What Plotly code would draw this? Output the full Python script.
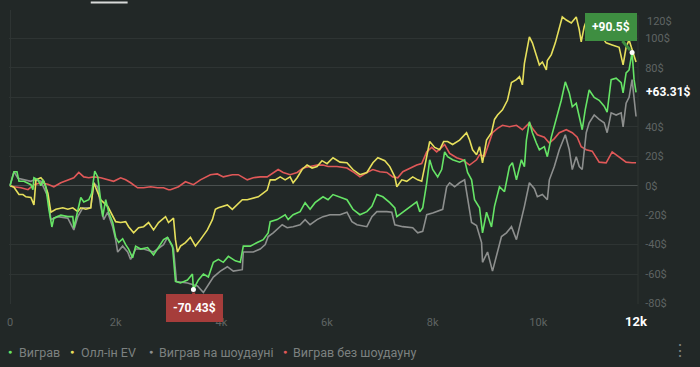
import plotly.graph_objects as go

# ---------------- data ----------------
won_hands = [0, 75, 132, 170, 264, 396, 434, 453, 528, 585, 623, 679, 736, 793, 830, 962, 1094, 1189, 1208, 1283,
             1340, 1396, 1491, 1547, 1604, 1661, 1717, 1755, 1812, 1868, 1944, 2000, 2057, 2132, 2189, 2245, 2321,
             2378, 2472, 2604, 2717, 2812, 2906, 2981, 3076, 3132, 3227, 3359, 3453, 3472, 3566, 3661, 3755, 3849,
             3944, 4038, 4133, 4265, 4359, 4416, 4548, 4680, 4793, 4887, 4925, 5057, 5208, 5265, 5359, 5491, 5586,
             5680, 5774, 5925, 6020, 6114, 6246, 6378, 6491, 6623, 6755, 6850, 6944, 7057, 7189, 7284, 7322, 7435,
             7567, 7699, 7756, 7812, 7888, 7944, 8001, 8095, 8171, 8227, 8284, 8378, 8510, 8605, 8661, 8737, 8793,
             8888, 8944, 9020, 9114, 9171, 9265, 9360, 9454, 9510, 9586, 9680, 9737, 9775, 9831, 9888, 9963, 10020,
             10114, 10171, 10246, 10341, 10435, 10511, 10586, 10643, 10718, 10775, 10831, 10888, 10963, 11058, 11152,
             11247, 11303, 11379, 11473, 11568, 11605, 11662, 11718, 11775, 11813, 11850]
won_vals = [0, 9.5, 9.5, 3, 3, 0.7, -2.7, 5.4, 4, 0, 4, -1, -16, -28, -22, -20, -21, -21, -28.5, -18,
            -8, -11, -9.5, -5, 10, 6, -11.5, -21, -9.5, -18, -25, -35, -38.6, -36, -40, -43, -49,
            -41, -43, -42, -47, -42, -36.6, -35, -41, -65, -66, -64, -60, -70.43, -64, -60, -62, -52,
            -50, -52, -48, -51, -52, -41, -41, -38.6, -36.6, -32, -24.4, -23, -19.7, -23, -19.7, -17.6, -11.5,
            -16, -11.5, -7.5, -9.5, -6, -8, -9.5, -16, -19.7, -17.6, -14, -6, -7.5, -11.5, -15, -21, -18,
            -15, -11, -17.6, -15, 2, 17.6, 11, 6, 11, 23, 19.7, 17.6, 16, 17.6, 9, 4, -9.5,
            -15, -32, -18, -28, -14, -0.7, -4, 13, 15.6, 4, 17.6, 13, 31, 43.4, 36, 29, 24.4,
            26.5, 19.7, 33, 45, 58, 70.5, 63, 53.6, 56, 47, 38, 51.5, 65, 60, 58,
            54, 50, 72, 73, 70, 63, 76.6, 78.6, 90.5, 72, 63.31]

allin_hands = [0, 75, 170, 245, 302, 396, 453, 491, 585, 642, 717, 774, 868, 1000, 1094, 1189, 1283, 1340, 1434,
               1528, 1585, 1661, 1717, 1849, 1944, 2000, 2095, 2189, 2245, 2340, 2434, 2529, 2623, 2717, 2812,
               2906, 2944, 3000, 3076, 3095, 3132, 3170, 3227, 3321, 3415, 3510, 3604, 3736, 3831, 3887, 3944,
               4038, 4114, 4208, 4302, 4397, 4491, 4604, 4699, 4793, 4868, 4925, 5019, 5114, 5208, 5302, 5359,
               5435, 5529, 5623, 5718, 5812, 5906, 6001, 6114, 6246, 6378, 6491, 6623, 6755, 6869, 6963, 7095,
               7189, 7284, 7322, 7416, 7510, 7623, 7718, 7793, 7850, 7944, 8039, 8133, 8208, 8284, 8378, 8510,
               8642, 8699, 8756, 8831, 8888, 8944, 9020, 9114, 9171, 9228, 9322, 9416, 9492, 9586, 9643, 9699,
               9737, 9794, 9831, 9888, 9963, 10020, 10077, 10152, 10171, 10246, 10322, 10397, 10454, 10529,
               10624, 10718, 10775, 10812, 10869, 10963, 11058, 11152, 11284, 11398, 11530, 11605, 11662, 11718,
               11775, 11850]
allin_vals = [0, -1, -6, -6, -7.5, -8, -13, 4, 5.4, 3, -5, -18, -16, -15, -16, -15, -17.6, -15, -16,
              -15, 2, -4, -9.5, -14, -21, -24.4, -25, -24.4, -27.8, -32, -28.5, -27.8, -25, -30, -25,
              -21.7, -21, -25, -23, -22, -36.6, -45, -41, -38.6, -35, -41, -36.6, -30, -23, -16, -15,
              -14, -13, -16, -13, -9.5, -9.5, -8.5, -7.5, -5, -3, 4, 4, 6, 4, 6, 2,
              5.4, 11, 14, 12, 13, 17, 15, 19, 16, 15.6, 11, 7.5, 9, 15.6, 19, 17,
              13, 6, -0.7, 4, 3, 6, 4, 3, 13, 30, 26, 24.4, 30, 30, 28, 31,
              36, 31, 24.4, 21, 26.5, 15.6, 31, 36, 45, 48, 51.5, 58, 70, 72, 74, 68.5,
              83, 94, 101, 97, 87.5, 82, 84, 78.6, 85, 89, 97, 106, 114.6, 112.5,
              110.5, 114.6, 106, 97.6, 108, 117, 112.5, 103.7, 97, 95.6, 94, 82, 94, 99,
              92, 84]

sd_hands = [0, 75, 151, 264, 396, 453, 585, 717, 774, 906, 1094, 1208, 1283, 1378, 1528, 1585, 1661, 1717, 1774,
            1849, 1944, 2000, 2038, 2132, 2227, 2283, 2378, 2529, 2717, 2906, 2981, 3095, 3151, 3359, 3548, 3661,
            3736, 3849, 3982, 4114, 4227, 4397, 4416, 4604, 4736, 4831, 4887, 4982, 5152, 5246, 5359, 5491, 5586,
            5680, 5812, 5925, 6057, 6246, 6378, 6472, 6567, 6755, 6850, 6944, 7133, 7227, 7284, 7435, 7623, 7718,
            7812, 7888, 8001, 8190, 8265, 8322, 8416, 8510, 8605, 8642, 8737, 8831, 8926, 8944, 9039, 9133, 9209,
            9303, 9397, 9492, 9586, 9680, 9737, 9831, 9926, 9982, 10077, 10171, 10209, 10303, 10397, 10511, 10586,
            10643, 10718, 10775, 10831, 10907, 10963, 11058, 11152, 11247, 11303, 11379, 11473, 11568, 11605,
            11662, 11718, 11775, 11813, 11850]
sd_vals = [0, 9.5, 5, 4, 3, 4, 3, -7.5, -23, -21, -22, -30, -21, -15, -15, 2, -1, -14, -23,
           -18, -28, -36.6, -45, -41, -45, -50, -43, -43, -45, -40, -35, -43, -65, -66, -68, -72.5,
           -68, -62, -58, -55, -58, -57, -45, -45, -43, -40, -34.5, -32, -26.5, -28.5, -27.8, -26.5, -23,
           -26.5, -23, -21, -19.7, -19.7, -18, -24.4, -26.5, -27.8, -21, -17.6, -17.6, -18, -26.5, -27.8, -28.5, -32,
           -31, -19.7, -18.5, -16, -0.7, 2, -0.7, 2, 4, -5, -25, -27, -38.6, -52, -45, -58, -48,
           -34.5, -32, -27.8, -36.6, -23, -14, 2, -2, -7.5, -6, -9.5, 4, 13, 24.4, 34.6, 24.4,
           11, 19.7, 13, 11, 36, 42.7, 48, 45, 42.7, 36, 49.5, 48, 49.5, 40,
           56, 60, 72, 58, 47]

nsd_hands = [0, 75, 208, 340, 453, 585, 717, 830, 962, 1094, 1208, 1302, 1396, 1491, 1585, 1717, 1849, 1962, 2095,
             2189, 2283, 2415, 2529, 2661, 2793, 2906, 3000, 3038, 3189, 3321, 3472, 3604, 3793, 3925, 4038, 4208,
             4321, 4491, 4604, 4736, 4868, 4982, 5076, 5170, 5302, 5435, 5548, 5680, 5812, 5925, 6020, 6189, 6378,
             6491, 6623, 6755, 6869, 7001, 7133, 7246, 7340, 7435, 7567, 7699, 7793, 7888, 7982, 8076, 8171, 8227,
             8322, 8454, 8567, 8699, 8831, 8888, 8982, 9076, 9133, 9228, 9322, 9454, 9586, 9699, 9831, 9888, 9982,
             10114, 10209, 10303, 10397, 10529, 10643, 10737, 10812, 10907, 11020, 11152, 11284, 11398, 11530,
             11662, 11775, 11850]
nsd_vals = [0, -0.7, -1.4, -2.7, 0.7, 2, 1, -0.7, 2, 4, 5.4, 9, 6, 5.4, 6, 5.4, 4, 3, 5.4,
            4, 2, -1.4, -1.4, -0.7, -1.4, -1.4, -2.7, -2.7, -0.7, 2.7, 0.7, 4, 7.5, 8, 6, 7.5,
            7.5, 4, 5.4, 6, 6, 9, 11, 9, 7.5, 9, 12, 13, 14, 14, 13, 13, 12,
            9.5, 6, 9, 11, 9.5, 9, 6, 5.4, 9.5, 12, 14, 15, 23, 26, 23, 26, 28,
            22, 19, 17.6, 14, 17.6, 21, 20, 31, 36, 39, 41, 40, 41, 38, 42.7, 39, 34.6,
            33, 29, 32, 36, 38, 36, 33, 26.5, 24.4, 23.5, 16, 15.5, 23, 19.7,
            16, 15.6, 15.6]

series_names = ["Виграв", "Олл-ін EV", "Виграв на шоудауні", "Виграв без шоудауну"]
series_colors = ["#66e466", "#e6df5c", "#8d8f8e", "#e05858"]

x_tick_vals = [0, 2000, 4000, 6000, 8000, 10000]
x_tick_text = ["0", "2k", "4k", "6k", "8k", "10k"]
x_end_label = "12k"
y_tick_vals = [-80, -60, -40, -20, 0, 20, 40, 60, 80, 100]
y_tick_text = ["-80$", "-60$", "-40$", "-20$", "0$", "20$", "40$", "", "80$", "100$"]
y_top_label = "120$"

max_label = "+90.5$"
min_label = "-70.43$"
end_label = "+63.31$"

# ---------------- layout geometry ----------------
W, H = 700, 367
ML, MR, MT, MB = 7, 62, 10, 63
PW, PH = W - ML - MR, H - MT - MB


def px_x(px):
    return (px - ML) / PW


def px_y(py):
    return (H - MB - py) / PH


BG = "#222827"
GRID = "#2e3433"

fig = go.Figure()

data = [
    (nsd_hands, nsd_vals, 3),
    (sd_hands, sd_vals, 2),
    (allin_hands, allin_vals, 1),
    (won_hands, won_vals, 0),
]
for hx, hy, idx in data:
    fig.add_trace(go.Scatter(x=hx, y=hy, mode="lines", name=series_names[idx],
                             line=dict(color=series_colors[idx], width=1.6),
                             showlegend=False, hoverinfo="skip"))

# extreme points of the main series
i_max = won_vals.index(max(won_vals))
i_min = won_vals.index(min(won_vals))
fig.add_trace(go.Scatter(x=[won_hands[i_max], won_hands[i_min]],
                         y=[won_vals[i_max], won_vals[i_min]], mode="markers",
                         marker=dict(color="white", size=5), showlegend=False, hoverinfo="skip"))

fig.update_layout(
    width=W, height=H,
    margin=dict(l=ML, r=MR, t=MT, b=MB),
    paper_bgcolor=BG, plot_bgcolor=BG,
    font=dict(family="Roboto", color="#6b706f", size=11),
    showlegend=False,
    hovermode=False,
    xaxis=dict(range=[-19, 11887], tickvals=x_tick_vals, ticktext=x_tick_text,
               showgrid=False, zeroline=True, zerolinecolor=GRID, zerolinewidth=1,
               tickfont=dict(size=11, color="#5f6463"), ticks="outside", ticklen=8,
               tickcolor="rgba(0,0,0,0)", fixedrange=True),
    yaxis=dict(range=[-80.3, 119.3], side="right", tickvals=y_tick_vals, ticktext=y_tick_text,
               showgrid=True, gridcolor=GRID, gridwidth=1,
               zeroline=True, zerolinecolor="#4a504f", zerolinewidth=1,
               tickfont=dict(size=11, color="#5f6463"), ticks="outside", ticklen=4,
               tickcolor="rgba(0,0,0,0)", fixedrange=True),
)

ann = []
# top y label (shifted inside)
ann.append(dict(xref="paper", yref="paper", x=1, y=px_y(21), xanchor="left", yanchor="middle",
                xshift=7, text=y_top_label, showarrow=False, font=dict(size=11, color="#5f6463")))
# end x label
ann.append(dict(xref="x", yref="paper", x=won_hands[-1], y=px_y(321), xanchor="center", yanchor="middle",
                text="<b>" + x_end_label + "</b>", showarrow=False, font=dict(size=13, color="#ffffff")))
# current value label
ann.append(dict(xref="paper", yref="y", x=1, y=won_vals[-1], xanchor="left", yanchor="middle",
                xshift=6, text="<b>" + end_label + "</b>", showarrow=False,
                font=dict(size=12, color="#ffffff")))
# max label
ann.append(dict(xref="x", yref="y", x=won_hands[i_max], y=won_vals[i_max], ax=-21, ay=-25,
                text="<b>" + max_label + "</b>", showarrow=True, arrowhead=0, arrowwidth=3,
                arrowcolor="#3e8e41", bgcolor="#3e8e41", bordercolor="#3e8e41", borderpad=6,
                standoff=3, font=dict(size=12, color="#ffffff")))
# min label
ann.append(dict(xref="x", yref="y", x=won_hands[i_min], y=won_vals[i_min], ax=1, ay=19,
                text="<b>" + min_label + "</b>", showarrow=True, arrowhead=0, arrowwidth=3,
                arrowcolor="#a63d3b", bgcolor="#a63d3b", bordercolor="#a63d3b", borderpad=6,
                standoff=3, font=dict(size=12, color="#ffffff")))

# legend built from annotations
dot_px = [8, 70, 149, 284]
text_px = [15, 77, 155, 290]
for name, color, dpx, tpx in zip(series_names, series_colors, dot_px, text_px):
    ann.append(dict(xref="paper", yref="paper", x=px_x(dpx), y=px_y(352), xanchor="center",
                    yanchor="middle", text="●", showarrow=False, font=dict(size=7, color=color)))
    ann.append(dict(xref="paper", yref="paper", x=px_x(tpx), y=px_y(352), xanchor="left",
                    yanchor="middle", text=name, showarrow=False, font=dict(size=12.5, color="#7c8180")))
# menu dots
ann.append(dict(xref="paper", yref="paper", x=px_x(680), y=px_y(350), xanchor="center", yanchor="middle",
                text="⋮", showarrow=False, font=dict(size=16, color="#7c8180")))
fig.update_layout(annotations=ann)

# small tab underline at the top
fig.add_shape(type="line", xref="paper", yref="paper", x0=px_x(89), x1=px_x(126), y0=px_y(2.5), y1=px_y(2.5),
              line=dict(color="#d8dad9", width=2))
# right border
fig.add_shape(type="line", xref="paper", yref="paper", x0=1, x1=1, y0=0, y1=px_y(15),
              line=dict(color=GRID, width=1))

fig.write_html("out.html", config={"displayModeBar": False, "staticPlot": True},
               post_script="document.body.style.margin='0';document.body.style.background='" + BG + "';")
